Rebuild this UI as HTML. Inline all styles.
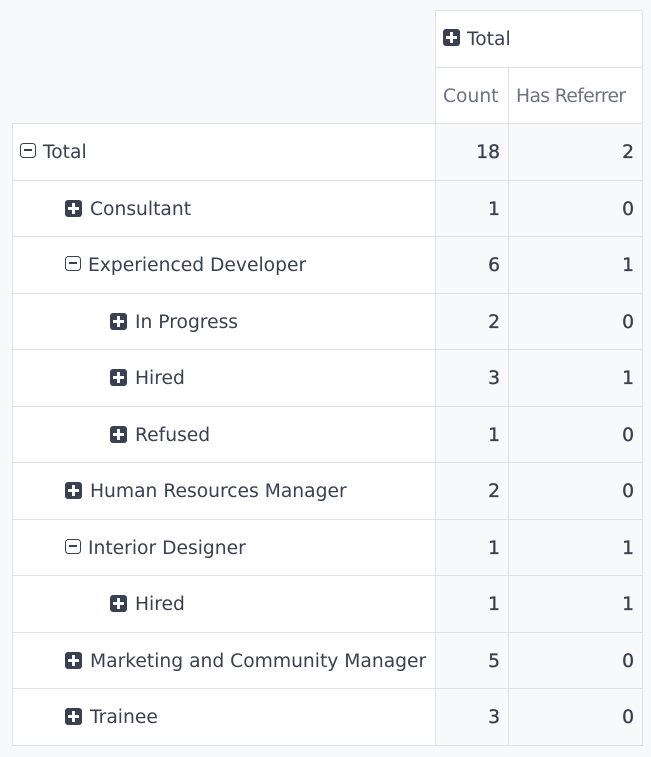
<!DOCTYPE html>
<html>
<head>
<meta charset="utf-8">
<style>
  html, body { margin:0; padding:0; }
  body { width:651px; height:757px; background:#f8f9fa; position:relative; overflow:hidden;
         font-family:"DejaVu Sans","Liberation Sans",sans-serif; font-size:18.7px; color:#374151; }
  .bg { position:absolute; }
  .hl { position:absolute; height:1px; background:#dee2e6; }
  .vl { position:absolute; width:1px; background:#dee2e6; }
  .t { position:absolute; white-space:nowrap; line-height:56px; height:56px; margin-top:2px; }
  .num { position:absolute; white-space:nowrap; line-height:56px; height:56px; margin-top:2px; text-align:right; -webkit-text-stroke:0.35px #374151; }
  .plus { position:absolute; width:17px; height:17px; background:#374151; border-radius:3px; }
  .plus:before { content:""; position:absolute; left:3px; top:7px; width:11px; height:3px; background:#fff; }
  .plus:after { content:""; position:absolute; left:7px; top:3px; width:3px; height:11px; background:#fff; }
  .minus { position:absolute; width:14px; height:13.5px; border:1.8px solid #374151; border-radius:3.5px; margin-top:-0.5px; }
  .minus:after { content:""; position:absolute; left:3px; top:5.9px; width:8px; height:1.8px; background:#374151; }
  .hdr { color:#6b7280; }
</style>
</head>
<body>
<div class="bg" style="left:435px;top:10px;width:207px;height:113px;background:#fff;"></div>
<div class="bg" style="left:12px;top:123px;width:423px;height:622px;background:#fff;"></div>
<div class="bg" style="left:436px;top:124px;width:206px;height:621px;background:#f8f9fa;"></div>

<div class="hl" style="left:435px;top:10px;width:208px;"></div>
<div class="hl" style="left:435px;top:67px;width:208px;"></div>
<div class="hl" style="left:12px;top:123px;width:631px;"></div>
<div class="hl" style="left:12px;top:180px;width:631px;"></div>
<div class="hl" style="left:12px;top:236px;width:631px;"></div>
<div class="hl" style="left:12px;top:293px;width:631px;"></div>
<div class="hl" style="left:12px;top:349px;width:631px;"></div>
<div class="hl" style="left:12px;top:406px;width:631px;"></div>
<div class="hl" style="left:12px;top:462px;width:631px;"></div>
<div class="hl" style="left:12px;top:519px;width:631px;"></div>
<div class="hl" style="left:12px;top:575px;width:631px;"></div>
<div class="hl" style="left:12px;top:632px;width:631px;"></div>
<div class="hl" style="left:12px;top:688px;width:631px;"></div>
<div class="hl" style="left:12px;top:745px;width:631px;"></div>

<div class="vl" style="left:12px;top:123px;height:623px;"></div>
<div class="vl" style="left:435px;top:10px;height:736px;"></div>
<div class="vl" style="left:508px;top:67px;height:679px;"></div>
<div class="vl" style="left:642px;top:10px;height:736px;"></div>

<div class="plus" style="left:443px;top:29px;"></div>
<div class="t" style="left:467px;top:10px;">Total</div>
<div class="t hdr" style="left:443px;top:67px;">Count</div>
<div class="t hdr" style="left:516px;top:67px;letter-spacing:-0.6px;">Has Referrer</div>

<div class="minus" style="left:20px;top:143px;"></div>
<div class="t" style="left:43px;top:123px;">Total</div>
<div class="num" style="left:436px;width:64px;top:123px;">18</div>
<div class="num" style="left:509px;width:125px;top:123px;">2</div>

<div class="plus" style="left:65px;top:200px;"></div>
<div class="t" style="left:90px;top:180px;">Consultant</div>
<div class="num" style="left:436px;width:64px;top:180px;">1</div>
<div class="num" style="left:509px;width:125px;top:180px;">0</div>

<div class="minus" style="left:65px;top:256px;"></div>
<div class="t" style="left:88px;top:236px;">Experienced Developer</div>
<div class="num" style="left:436px;width:64px;top:236px;">6</div>
<div class="num" style="left:509px;width:125px;top:236px;">1</div>

<div class="plus" style="left:110px;top:313px;"></div>
<div class="t" style="left:135px;top:293px;">In Progress</div>
<div class="num" style="left:436px;width:64px;top:293px;">2</div>
<div class="num" style="left:509px;width:125px;top:293px;">0</div>

<div class="plus" style="left:110px;top:369px;"></div>
<div class="t" style="left:135px;top:349px;">Hired</div>
<div class="num" style="left:436px;width:64px;top:349px;">3</div>
<div class="num" style="left:509px;width:125px;top:349px;">1</div>

<div class="plus" style="left:110px;top:426px;"></div>
<div class="t" style="left:135px;top:406px;">Refused</div>
<div class="num" style="left:436px;width:64px;top:406px;">1</div>
<div class="num" style="left:509px;width:125px;top:406px;">0</div>

<div class="plus" style="left:65px;top:482px;"></div>
<div class="t" style="left:90px;top:462px;">Human Resources Manager</div>
<div class="num" style="left:436px;width:64px;top:462px;">2</div>
<div class="num" style="left:509px;width:125px;top:462px;">0</div>

<div class="minus" style="left:65px;top:539px;"></div>
<div class="t" style="left:88px;top:519px;">Interior Designer</div>
<div class="num" style="left:436px;width:64px;top:519px;">1</div>
<div class="num" style="left:509px;width:125px;top:519px;">1</div>

<div class="plus" style="left:110px;top:595px;"></div>
<div class="t" style="left:135px;top:575px;">Hired</div>
<div class="num" style="left:436px;width:64px;top:575px;">1</div>
<div class="num" style="left:509px;width:125px;top:575px;">1</div>

<div class="plus" style="left:65px;top:652px;"></div>
<div class="t" style="left:90px;top:632px;">Marketing and Community Manager</div>
<div class="num" style="left:436px;width:64px;top:632px;">5</div>
<div class="num" style="left:509px;width:125px;top:632px;">0</div>

<div class="plus" style="left:65px;top:708px;"></div>
<div class="t" style="left:90px;top:688px;">Trainee</div>
<div class="num" style="left:436px;width:64px;top:688px;">3</div>
<div class="num" style="left:509px;width:125px;top:688px;">0</div>
</body>
</html>
